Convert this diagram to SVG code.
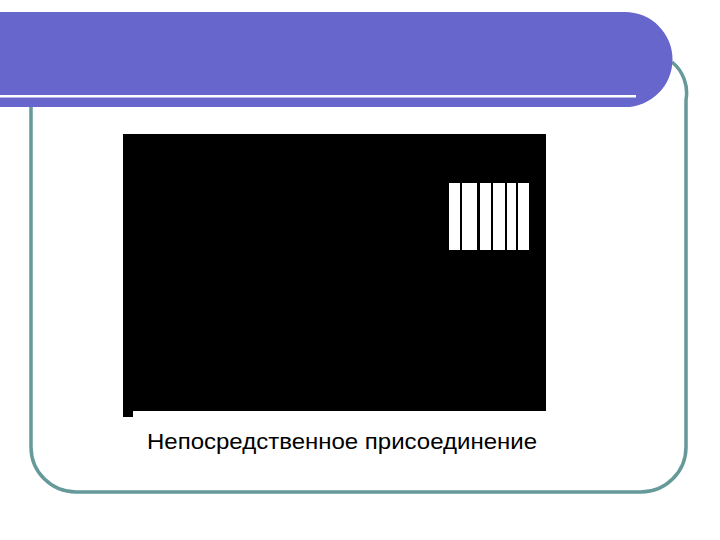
<svg xmlns="http://www.w3.org/2000/svg" width="720" height="540" viewBox="0 0 720 540">
<style>
.frame{fill:none;stroke:#669999;stroke-width:3.5}
.bar{fill:#ffffff}
.cap{font-family:"Liberation Sans",Arial,sans-serif;font-size:22px;fill:#000}
</style>
<rect width="720" height="540" fill="#ffffff"/>
<g id="frame">
<path class="frame" d="M31,100 V447 A45,45 0 0 0 76,492 H641 A45,45 0 0 0 686,447 V100 A40,40 0 0 0 672,62"/>
</g>
<g id="banner">
<path d="M0,12 H625 A47.5,47.5 0 0 1 625,107 H0 Z" fill="#6666CC"/>
<rect x="0" y="95" width="636" height="2.5" fill="#ffffff"/>
</g>
<g id="picture">
<rect x="123" y="134" width="423" height="277" fill="#000"/>
<rect x="123" y="410" width="10" height="7" fill="#000"/>
<rect class="bar" x="449" y="183" width="11" height="67"/>
<rect class="bar" x="462" y="183" width="15" height="67"/>
<rect class="bar" x="480" y="183" width="11" height="67"/>
<rect class="bar" x="493" y="183" width="12" height="67"/>
<rect class="bar" x="507" y="183" width="9" height="67"/>
<rect class="bar" x="518" y="183" width="11" height="67"/>
</g>
<g id="caption">
<text class="cap" x="147" y="449" textLength="390" lengthAdjust="spacingAndGlyphs">Непосредственное присоединение</text>
</g>
</svg>
